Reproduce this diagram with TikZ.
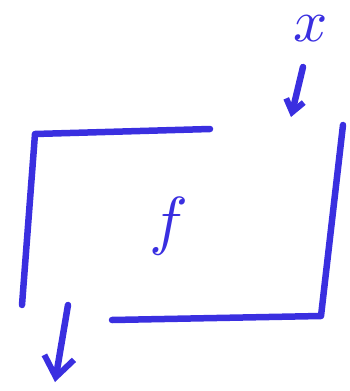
\documentclass[tikz,border=0pt]{standalone}
\usepackage{xcolor}
\usepackage{tikz}
\usetikzlibrary{arrows.meta,positioning}
\definecolor{pen}{HTML}{3A2FE0}

\begin{document}
\begin{tikzpicture}[x=1pt,y=-1pt, every node/.style={text=pen,inner sep=0pt},
  stroke/.style={draw=pen,line width=6.5pt,line cap=round,line join=round},
  arr/.style={stroke,-{Straight Barb[length=#1,width=1.5*#1,line width=6pt]}}]
\useasboundingbox (0,0) rectangle (350,391);
% labels
\node[scale=6] (x) at (311,29) {$x$};
\node[scale=6.5] (f) at (169,226) {$f$};
% the open box
\coordinate (tr) at (210,129);
\coordinate (tl) at (35,134);
\coordinate (bl) at (22,305);
\coordinate (rt) at (343,125);
\coordinate (br) at (321,316);
\coordinate (bb) at (112,320);
\draw[stroke] (tr) -- (tl) -- (bl);
\draw[stroke] (rt) -- (br) -- (bb);
% in and out
\coordinate (inTail) at (303,67);
\coordinate (inHead) at (291,117);
\coordinate (outTail) at (68,305);
\coordinate (outHead) at (55,382);
\draw[arr=12pt] (inTail) -- (inHead);
\draw[arr=20pt] (outTail) -- (outHead);
\end{tikzpicture}
\end{document}
